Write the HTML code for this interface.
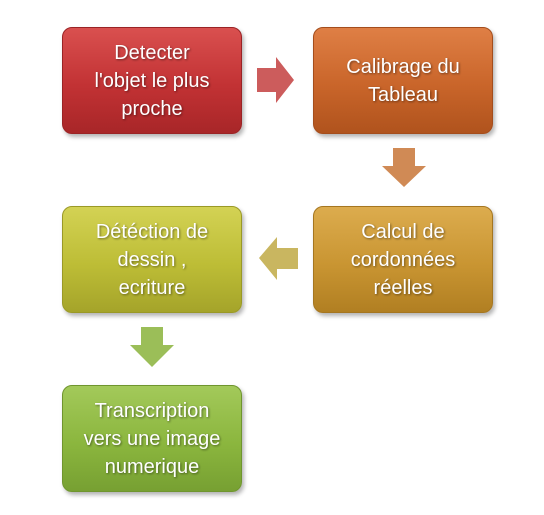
<!DOCTYPE html>
<html><head><meta charset="utf-8"><style>
body{margin:0;width:544px;height:515px;background:#fff;position:relative;overflow:hidden;font-family:"Liberation Sans",sans-serif}
.b{position:absolute;width:178px;height:105px;border-radius:10px;display:flex;align-items:center;justify-content:center;text-align:center;color:#fff;font-size:20px;line-height:28px;text-shadow:1px 1px 2px rgba(0,0,0,.45);box-shadow:2px 3px 4px rgba(0,0,0,.3)}
svg{position:absolute;left:0;top:0}
</style></head><body>
<div class="b" style="left:62px;top:27px;background:linear-gradient(#d9504f,#c23234 55%,#a82628);border:1px solid #9a2325">Detecter<br>l'objet le plus<br>proche</div>
<div class="b" style="left:313px;top:27px;background:linear-gradient(#df7f45,#c9652a 55%,#b0531d);border:1px solid #a44d1c">Calibrage du<br>Tableau</div>
<div class="b" style="left:313px;top:206px;background:linear-gradient(#dcac4e,#c99532 55%,#b17f22);border:1px solid #a57620">Calcul de<br>cordonnées<br>réelles</div>
<div class="b" style="left:62px;top:206px;background:linear-gradient(#d3d254,#bdbd36 55%,#a5a42a);border:1px solid #9a9926">Détéction de<br>dessin ,<br>ecriture</div>
<div class="b" style="left:62px;top:385px;background:linear-gradient(#a3c95a,#8bb63e 55%,#77a032);border:1px solid #6f952e">Transcription<br>vers une image<br>numerique</div>
<svg width="544" height="515">
<polygon points="257,68 276,68 276,57 294,80 276,103 276,92 257,92" fill="#cc5c5c"/>
<polygon points="393,148 415,148 415,166 426,166 404,187 382,166 393,166" fill="#d08a55"/>
<polygon points="298,248 277,248 277,237 259,258 277,280 277,269 298,269" fill="#c9b660"/>
<polygon points="141,327 163,327 163,345 174,345 152,367 130,345 141,345" fill="#9bbe58"/>
</svg>
</body></html>
